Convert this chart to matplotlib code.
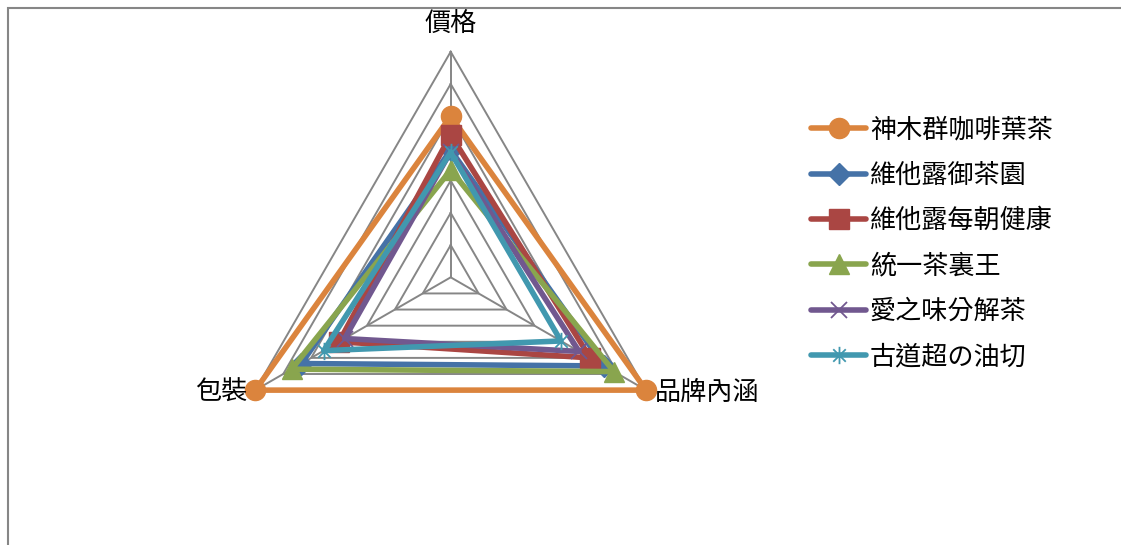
import numpy as np
import matplotlib.pyplot as plt
from matplotlib.patches import Rectangle
from matplotlib.path import Path

plt.rcParams['font.family'] = ['Noto Sans CJK TC', 'DejaVu Sans']

categories = ['價格', '品牌內涵', '包裝']
series_names = ['神木群咖啡葉茶', '維他露御茶園', '維他露每朝健康', '統一茶裏王', '愛之味分解茶', '古道超の油切']
price = [5.0, 3.95, 4.42, 3.33, 3.9, 3.88]
brand = [7.0, 5.5, 5.0, 5.85, 4.6, 3.95]
package = [7.0, 5.35, 4.0, 5.7, 3.8, 4.55]
grid_levels = [1, 2, 3, 4, 5, 6, 7]

colors = ['#DB843D', '#4572A7', '#AA4643', '#89A54E', '#71588F', '#4198AF']
star = Path([(0, -1), (0, 1), (-0.72, -0.72), (0.72, 0.72), (-0.72, 0.72), (0.72, -0.72)],
            [Path.MOVETO, Path.LINETO] * 3)
markers = ['o', 'D', 's', '^', 'x', star]
msizes = [14.5, 11, 14, 15, 12, 12.5]

fig = plt.figure(figsize=(11.21, 5.45), dpi=100)
ax = fig.add_axes([0.2008, 0.0772, 0.4025, 0.8279], projection='polar')
ax.set_theta_offset(np.pi / 2)
ax.set_theta_direction(-1)
ax.set_ylim(0, max(grid_levels))
ax.grid(False)
ax.spines['polar'].set_visible(False)
ax.set_xticks([])
ax.set_yticks([])
ax.patch.set_visible(False)

theta = np.arange(len(categories)) * 2 * np.pi / len(categories)
closed = np.append(theta, theta[0])

# rejilla triangular
for lev in grid_levels:
    ax.plot(closed, [lev] * len(closed), color='#868686', lw=1.4, clip_on=False, zorder=1)
for t in theta:
    ax.plot([t, t], [0, max(grid_levels)], color='#868686', lw=1.4, clip_on=False, zorder=1)

# series
for i, name in enumerate(series_names):
    vals = [price[i], brand[i], package[i]]
    vals = vals + vals[:1]
    thin = markers[i] in ('x', star)
    ax.plot(closed, vals, color=colors[i], lw=4.0, marker=markers[i], ms=msizes[i],
            markevery=[0, 1, 2], mec=colors[i], mfc=colors[i], mew=1.3 if thin else 1,
            clip_on=False, zorder=3 + i, label=name, solid_capstyle='round')

# etiquetas de los ejes
label_offsets = [((0, 28), 'center'), ((9, -2), 'left'), ((-8, -2), 'right')]
for t, lab, (off, ha) in zip(theta, categories, label_offsets):
    ax.annotate(lab, xy=(t, max(grid_levels)), xytext=off, textcoords='offset pixels',
                ha=ha, va='center', fontsize=18.8, annotation_clip=False)

fig.legend(loc='upper left', bbox_to_anchor=(0.712, 0.81), frameon=False, fontsize=18.8,
           handlelength=2.1, handletextpad=0.15, labelspacing=0.7, borderpad=0, numpoints=1)

# borde del área del gráfico
fig.add_artist(Rectangle((8 / 1121, -0.5), 2, 0.5 + 1 - 7.5 / 545, transform=fig.transFigure,
                         fill=False, edgecolor='#868686', lw=1.5))

plt.savefig('out.png', dpi=100)
